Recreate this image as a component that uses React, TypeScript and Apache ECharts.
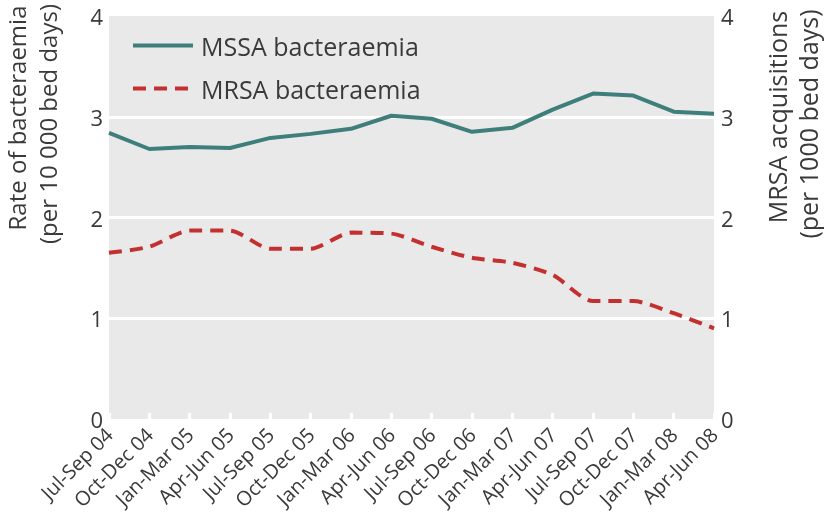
import React, { useEffect, useRef } from "react";
import * as echarts from "echarts";

const categories = [
  "Jul-Sep 04", "Oct-Dec 04", "Jan-Mar 05", "Apr-Jun 05", "Jul-Sep 05", "Oct-Dec 05",
  "Jan-Mar 06", "Apr-Jun 06", "Jul-Sep 06", "Oct-Dec 06", "Jan-Mar 07", "Apr-Jun 07",
  "Jul-Sep 07", "Oct-Dec 07", "Jan-Mar 08", "Apr-Jun 08",
];
const mssa = [2.84, 2.68, 2.7, 2.69, 2.79, 2.83, 2.88, 3.01, 2.98, 2.85, 2.89, 3.07, 3.23, 3.21, 3.05, 3.03];
const mrsa = [1.65, 1.71, 1.87, 1.87, 1.69, 1.69, 1.85, 1.84, 1.71, 1.6, 1.55, 1.43, 1.17, 1.17, 1.05, 0.9];
const yTicks = [0, 1, 2, 3, 4];

const FONT = "'Open Sans', sans-serif";
const TXT = "#3a3a3a";

export default function App() {
  const ref = useRef<HTMLDivElement>(null);
  useEffect(() => {
    if (!ref.current) return;
    const chart = echarts.init(ref.current, undefined, { renderer: "svg" });
    chart.setOption({
      animation: false,
      textStyle: { fontFamily: FONT },
      grid: {
        left: 109, right: 110, top: 16, bottom: 101,
        show: true, backgroundColor: "#e9e9e9", borderWidth: 0,
        containLabel: false, outerBoundsMode: "none",
      },
      legend: {
        orient: "vertical", left: 126, top: 25, itemWidth: 60, itemHeight: 14, itemGap: 12,
        selectedMode: false,
        itemStyle: { opacity: 0 },
        lineStyle: { width: 4 },
        textStyle: { fontSize: 25, color: TXT, fontFamily: FONT, lineHeight: 31, padding: [0, 0, 0, 3] },
        data: ["MSSA bacteraemia", "MRSA bacteraemia"],
      },
      xAxis: {
        type: "category", data: categories, boundaryGap: false,
        axisLine: { show: false },
        axisTick: { show: true, inside: true, length: 6, lineStyle: { color: "#ffffff", width: 3 } },
        axisLabel: {
          rotate: 45, fontSize: 20, color: TXT, fontFamily: FONT, margin: 12, interval: 0,
        },
      },
      yAxis: [
        {
          type: "value", min: yTicks[0], max: yTicks[yTicks.length - 1], interval: 1,
          axisLine: { show: false }, axisTick: { show: false },
          axisLabel: { fontSize: 22, color: TXT, fontFamily: FONT, margin: 6 },
          splitLine: { show: true, showMinLine: false, showMaxLine: false, lineStyle: { color: "#ffffff", width: 3 } },
        },
        {
          type: "value", min: yTicks[0], max: yTicks[yTicks.length - 1], interval: 1, position: "right",
          axisLine: { show: false }, axisTick: { show: false },
          axisLabel: { fontSize: 22, color: TXT, fontFamily: FONT, margin: 7 },
          splitLine: { show: false },
        },
      ],
      series: [
        {
          name: "MSSA bacteraemia", type: "line", data: mssa, yAxisIndex: 0,
          symbol: "none", lineStyle: { color: "#3f7f7b", width: 4 }, itemStyle: { color: "#3f7f7b" },
        },
        {
          name: "MRSA bacteraemia", type: "line", data: mrsa, yAxisIndex: 0, smooth: 0.25,
          symbol: "none", lineStyle: { color: "#c2302f", width: 4, type: [13, 8] }, itemStyle: { color: "#c2302f" },
        },
      ],
      graphic: [
        { type: "text", x: 16, y: 118, rotation: Math.PI / 2,
          style: { text: "Rate of bacteraemia", fontSize: 24, fontFamily: FONT, fill: TXT, align: "center", verticalAlign: "middle" } },
        { type: "text", x: 47, y: 124, rotation: Math.PI / 2,
          style: { text: "(per 10 000 bed days)", fontSize: 24, fontFamily: FONT, fill: TXT, align: "center", verticalAlign: "middle" } },
        { type: "text", x: 777, y: 117, rotation: Math.PI / 2,
          style: { text: "MRSA acquisitions", fontSize: 25, fontFamily: FONT, fill: TXT, align: "center", verticalAlign: "middle" } },
        { type: "text", x: 808, y: 124, rotation: Math.PI / 2,
          style: { text: "(per 1000 bed days)", fontSize: 25, fontFamily: FONT, fill: TXT, align: "center", verticalAlign: "middle" } },
      ],
    });
    return () => chart.dispose();
  }, []);
  return <div ref={ref} style={{ width: 824, height: 520, position: "fixed", left: 0, top: 0 }} />;
}
